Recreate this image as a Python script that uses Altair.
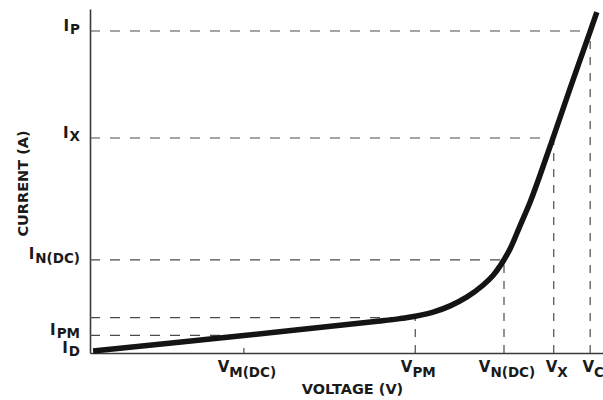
import altair as alt
import pandas as pd

# Forward I-V characteristic (schematic units, 0-10 on both axes)
curve_v = [0.06, 3.00, 5.65, 6.04, 6.34, 6.69, 7.02, 7.35, 7.66, 7.86, 7.99, 8.07, 8.19,
           8.38, 8.58, 8.77, 9.03, 9.36, 9.75, 9.88]
curve_i = [0.06, 0.51, 0.93, 1.00, 1.07, 1.19, 1.37, 1.63, 1.97, 2.26, 2.52, 2.71, 3.03,
           3.69, 4.39, 5.16, 6.27, 7.70, 9.35, 9.91]

# Marked voltages along the x axis
v_subs = ["M(DC)", "PM", "N(DC)", "X", "C"]
v_values = [3.00, 6.34, 8.07, 9.04, 9.75]

# Marked currents along the y axis
i_subs = ["D", "PM", "N(DC)", "X", "P"]
i_values = [0.00, 0.51, 2.71, 6.25, 9.36]

# Dashed projections: (voltage, current) points on the curve
guide_v = [3.00, 6.34, 8.07, 9.04, 9.75]
guide_i = [0.51, 1.03, 2.71, 6.25, 9.36]
drop_lines = [False, True, True, True, True]  # vertical dashed line down to the axis

FONT = "DejaVu Sans"
MAIN_SIZE = 15
SUB_SIZE = 13.5
INK = "#1a1a1a"
DASH_COLOR = "#4a4a4a"

# approximate advance widths (em) of DejaVu Sans Bold, for placing subscripts
GLYPH_W = {"I": 0.372, "P": 0.733, "X": 0.774, "N": 0.837, "D": 0.830, "C": 0.734,
           "M": 0.995, "(": 0.457, ")": 0.457, "V": 0.774}


def text_width(s, size):
    return sum(GLYPH_W.get(ch, 0.7) for ch in s) * size


W, H = 513, 344
xs = alt.Scale(domain=[0, 10], nice=False, zero=False)
ys = alt.Scale(domain=[0, 10], nice=False, zero=False)

x_axis = alt.Axis(title="VOLTAGE (V)", labels=False, ticks=False, grid=False,
                  domainColor="#3a3a3a", domainWidth=1.6,
                  titleFont=FONT, titleFontSize=14.5, titleFontWeight="bold", titleColor=INK,
                  titleBaseline="alphabetic", titleY=40, titleX=262)
y_axis = alt.Axis(title="CURRENT (A)", labels=False, ticks=False, grid=False,
                  domainColor="#3a3a3a", domainWidth=1.6,
                  titleFont=FONT, titleFontSize=14.5, titleFontWeight="bold", titleColor=INK,
                  titleAngle=270, titleBaseline="alphabetic", titleAlign="center",
                  titleX=-63, titleY=174)


def X(field):
    return alt.X(field, type="quantitative", scale=xs, axis=x_axis)


def Y(field):
    return alt.Y(field, type="quantitative", scale=ys, axis=y_axis)


curve_df = pd.DataFrame({"v": curve_v, "i": curve_i})
guide_df = pd.DataFrame({"v": guide_v, "i": guide_i, "drop": drop_lines, "zero": 0.0})

curve = alt.Chart(curve_df).mark_line(
    color="#141414", strokeWidth=5.5, interpolate="catmull-rom", strokeCap="butt"
).encode(x=X("v"), y=Y("i"))

h_dash = alt.Chart(guide_df).mark_rule(
    color=DASH_COLOR, strokeWidth=1.2, strokeDash=[10, 10]
).encode(x=X("zero"), x2="v", y=Y("i"))

v_dash = alt.Chart(guide_df[guide_df["drop"]]).mark_rule(
    color=DASH_COLOR, strokeWidth=1.2, strokeDash=[8, 8]
).encode(x=X("v"), y=Y("zero"), y2="i")

tick_df = pd.DataFrame({"v": [v for v, d in zip(guide_v, drop_lines) if not d]})
short_tick = alt.Chart(tick_df).mark_rule(
    color=DASH_COLOR, strokeWidth=1.2
).encode(x=X("v"), y=alt.value(H), y2=alt.value(H - 5))

layers = [h_dash, v_dash, short_tick, curve]

# x-axis labels: V with subscript, centred a little right of each mark
for sub, val in zip(v_subs, v_values):
    d = pd.DataFrame({"v": [val]})
    w_main = text_width("V", MAIN_SIZE)
    total = w_main + text_width(sub, SUB_SIZE)
    dx = 3 - total / 2 + w_main
    layers.append(alt.Chart(d).mark_text(
        text="V", font=FONT, fontWeight="bold", fontSize=MAIN_SIZE, color=INK,
        align="right", baseline="alphabetic", dx=dx, dy=19
    ).encode(x=X("v"), y=alt.value(H)))
    layers.append(alt.Chart(d).mark_text(
        text=sub, font=FONT, fontWeight="bold", fontSize=SUB_SIZE, color=INK,
        align="left", baseline="alphabetic", dx=dx, dy=23.5
    ).encode(x=X("v"), y=alt.value(H)))

# y-axis labels: I with subscript, right-aligned against the axis
for sub, val in zip(i_subs, i_values):
    d = pd.DataFrame({"i": [val]})
    w_sub = text_width(sub, SUB_SIZE)
    layers.append(alt.Chart(d).mark_text(
        text="I", font=FONT, fontWeight="bold", fontSize=MAIN_SIZE, color=INK,
        align="right", baseline="alphabetic", dx=-10 - w_sub - 1, dy=-0.5
    ).encode(x=alt.value(0), y=Y("i")))
    layers.append(alt.Chart(d).mark_text(
        text=sub, font=FONT, fontWeight="bold", fontSize=SUB_SIZE, color=INK,
        align="right", baseline="alphabetic", dx=-10, dy=3
    ).encode(x=alt.value(0), y=Y("i")))

chart = alt.layer(*layers).properties(
    width=W, height=H,
    autosize=alt.AutoSizeParams(type="none"),
    padding={"left": 90, "top": 9, "right": 0, "bottom": 47},
    background="white",
).configure_view(stroke=None)

chart.save("out.html", embed_options={"renderer": "svg", "actions": False})
